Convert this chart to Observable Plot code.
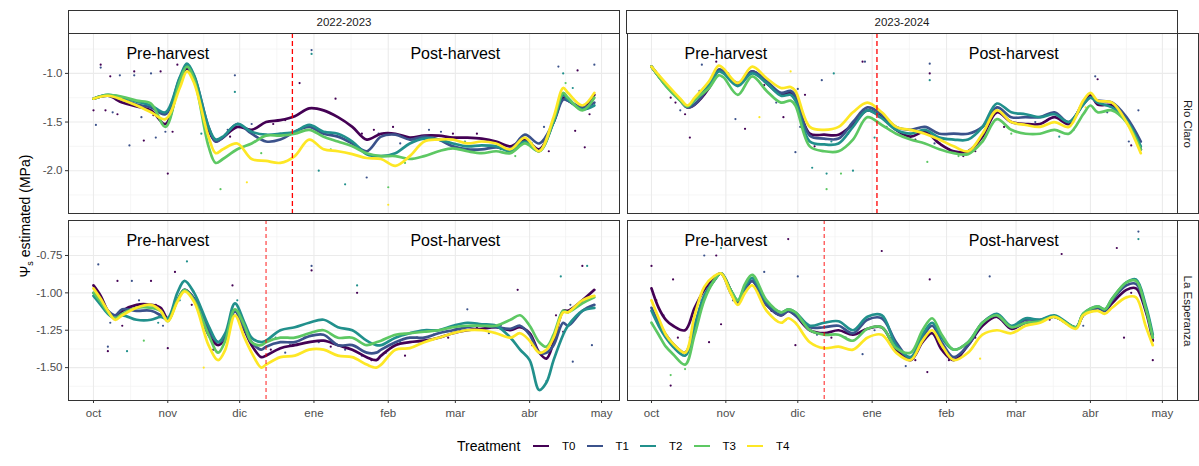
<!DOCTYPE html>
<html>
<head>
<meta charset="utf-8">
<script src="https://cdn.jsdelivr.net/npm/d3@7"></script>
<script src="https://cdn.jsdelivr.net/npm/@observablehq/plot@0.6"></script>
<style>
  body { margin: 0; background: #fff; font-family: "Liberation Sans", Arial, sans-serif; }
  #wrap { position: relative; width: 1199px; height: 466px; overflow: hidden; background: #fff; }
  .pane { position: absolute; }
  .strip { position: absolute; box-sizing: border-box; background: #fff; border: 1px solid #333;
           color: #1a1a1a; font-size: 11.5px; display: flex; align-items: center; justify-content: center; }
  .vtext { position: absolute; white-space: nowrap; text-align: center; }
  .leg { position: absolute; white-space: nowrap; }
</style>
</head>
<body>
<div id="wrap"></div>
<script>
// ---------------- data ----------------
const treatments = ["T0", "T1", "T2", "T3", "T4"];
const seasonLabels = ["2022-2023", "2023-2024"];
const siteLabels = ["Rio Claro", "La Esperanza"];
const monthLabels = ["oct", "nov", "dic", "ene", "feb", "mar", "abr", "may"];
const phaseLabels = ["Pre-harvest", "Post-harvest"];

// days counted from 1 October of the first season year
// Rio Claro 2022-2023
const days_rc_2223 = [0,6,12,18,24,30,36,39,42,48,51,54,60,66,72,78,84,90,96,102,108,114,120,126,132,138,144,150,156,162,168,174,180,186,192,196,198,204,209];
const rc_2223_T0 = [-1.26,-1.23,-1.30,-1.34,-1.38,-1.52,-1.08,-0.95,-1.05,-1.58,-1.70,-1.66,-1.55,-1.58,-1.50,-1.48,-1.44,-1.36,-1.38,-1.45,-1.55,-1.68,-1.62,-1.62,-1.66,-1.64,-1.64,-1.66,-1.66,-1.67,-1.70,-1.75,-1.68,-1.78,-1.50,-1.25,-1.28,-1.35,-1.22];
const rc_2223_T1 = [-1.26,-1.23,-1.27,-1.32,-1.35,-1.42,-1.05,-0.92,-1.03,-1.55,-1.70,-1.66,-1.52,-1.62,-1.70,-1.68,-1.60,-1.55,-1.62,-1.65,-1.72,-1.80,-1.65,-1.63,-1.68,-1.65,-1.68,-1.75,-1.78,-1.78,-1.76,-1.78,-1.63,-1.72,-1.50,-1.27,-1.28,-1.35,-1.30];
const rc_2223_T2 = [-1.26,-1.22,-1.25,-1.29,-1.33,-1.40,-1.04,-0.90,-1.02,-1.55,-1.68,-1.65,-1.52,-1.60,-1.63,-1.62,-1.60,-1.53,-1.60,-1.62,-1.70,-1.83,-1.85,-1.82,-1.72,-1.67,-1.68,-1.72,-1.75,-1.74,-1.75,-1.80,-1.70,-1.80,-1.50,-1.22,-1.27,-1.37,-1.33];
const rc_2223_T3 = [-1.26,-1.22,-1.24,-1.28,-1.31,-1.55,-1.08,-0.93,-1.06,-1.75,-1.92,-1.88,-1.78,-1.72,-1.64,-1.64,-1.62,-1.58,-1.65,-1.70,-1.75,-1.82,-1.85,-1.85,-1.88,-1.85,-1.80,-1.77,-1.80,-1.82,-1.80,-1.82,-1.72,-1.80,-1.48,-1.20,-1.25,-1.38,-1.25];
const rc_2223_T4 = [-1.26,-1.23,-1.27,-1.33,-1.40,-1.47,-1.15,-0.98,-1.10,-1.65,-1.82,-1.78,-1.72,-1.88,-1.90,-1.92,-1.85,-1.68,-1.78,-1.80,-1.83,-1.87,-1.88,-1.95,-1.85,-1.70,-1.68,-1.68,-1.72,-1.70,-1.72,-1.78,-1.66,-1.80,-1.45,-1.15,-1.20,-1.33,-1.20];
const pts_rc_2223 = [[3,-0.91,"T0"],[3,-0.94,"T1"],[7,-1.03,"T0"],[11,-1.02,"T1"],[17,-0.98,"T0"],[17,-1.02,"T1"],[24,-1.0,"T1"],[28,-0.98,"T0"],[35,-0.91,"T0"],[59,-1.02,"T1"],[59,-1.19,"T2"],[91,-0.76,"T1"],[91,-0.80,"T2"],[86,-1.10,"T0"],[101,-1.26,"T0"],[194,-0.93,"T1"],[196,-1.0,"T2"],[202,-0.97,"T0"],[209,-0.91,"T1"],[201,-1.59,"T0"],[205,-1.76,"T0"],[31,-2.03,"T0"],[15,-1.74,"T1"],[21,-1.69,"T0"],[26,-1.66,"T1"],[53,-2.19,"T3"],[64,-2.12,"T4"],[123,-2.17,"T3"],[123,-2.35,"T4"],[114,-2.07,"T1"],[105,-2.14,"T2"],[94,-2.0,"T2"],[1,-1.53,"T1"],[0,-1.38,"T0"],[45,-1.62,"T2"],[70,-1.82,"T3"],[140,-1.58,"T1"],[160,-1.62,"T0"],[188,-1.55,"T1"],[130,-1.92,"T3"],
  [5,-1.38,"T0"],[8,-1.40,"T1"],[10,-1.42,"T0"],[20,-1.45,"T1"],[25,-1.43,"T0"],[30,-1.60,"T1"],[33,-1.60,"T0"],[56,-1.58,"T1"],[57,-1.65,"T0"],[62,-1.55,"T0"],[66,-1.52,"T1"],[75,-1.52,"T0"],[80,-1.48,"T0"],[97,-1.60,"T2"],[99,-1.78,"T3"],[112,-1.62,"T0"],[117,-1.58,"T0"],[119,-1.62,"T1"],[125,-1.55,"T0"],[128,-1.72,"T1"],[145,-1.60,"T1"],[150,-1.62,"T0"],[155,-1.70,"T2"],[170,-1.78,"T2"],[176,-1.85,"T3"],[183,-1.72,"T2"],[190,-1.80,"T0"],[197,-1.10,"T3"],[200,-1.15,"T2"],[207,-1.42,"T0"]];

// Rio Claro 2023-2024
const days_rc_2324 = [0,6,12,15,18,24,28,30,36,42,48,54,58,60,66,72,78,84,90,96,102,108,114,120,126,132,138,144,150,156,162,168,174,180,183,186,192,198,204];
const rc_2324_T0 = [-0.93,-1.12,-1.28,-1.35,-1.32,-1.15,-0.97,-0.98,-1.12,-0.98,-1.10,-1.22,-1.20,-1.25,-1.62,-1.63,-1.63,-1.52,-1.38,-1.45,-1.58,-1.65,-1.60,-1.72,-1.80,-1.80,-1.65,-1.40,-1.50,-1.52,-1.52,-1.45,-1.52,-1.30,-1.22,-1.32,-1.33,-1.48,-1.78];
const rc_2324_T1 = [-0.93,-1.12,-1.28,-1.35,-1.32,-1.13,-0.96,-0.98,-1.10,-0.98,-1.08,-1.20,-1.18,-1.23,-1.64,-1.67,-1.67,-1.50,-1.35,-1.42,-1.55,-1.58,-1.55,-1.62,-1.62,-1.62,-1.55,-1.35,-1.45,-1.45,-1.45,-1.40,-1.50,-1.32,-1.25,-1.28,-1.30,-1.45,-1.70];
const rc_2324_T2 = [-0.93,-1.12,-1.27,-1.34,-1.28,-1.12,-0.98,-1.00,-1.13,-1.00,-1.10,-1.23,-1.22,-1.28,-1.70,-1.73,-1.72,-1.55,-1.38,-1.46,-1.58,-1.62,-1.58,-1.66,-1.68,-1.68,-1.55,-1.31,-1.40,-1.42,-1.45,-1.42,-1.50,-1.32,-1.25,-1.30,-1.35,-1.48,-1.75];
const rc_2324_T3 = [-0.93,-1.13,-1.28,-1.34,-1.27,-1.15,-1.02,-1.04,-1.22,-1.03,-1.18,-1.30,-1.28,-1.33,-1.75,-1.80,-1.80,-1.68,-1.45,-1.53,-1.62,-1.68,-1.72,-1.78,-1.82,-1.83,-1.70,-1.47,-1.58,-1.62,-1.62,-1.58,-1.62,-1.42,-1.33,-1.40,-1.38,-1.50,-1.78];
const rc_2324_T4 = [-0.93,-1.10,-1.26,-1.33,-1.25,-1.08,-0.92,-0.95,-1.10,-0.93,-1.05,-1.15,-1.14,-1.18,-1.55,-1.58,-1.55,-1.40,-1.30,-1.40,-1.55,-1.58,-1.62,-1.68,-1.75,-1.80,-1.62,-1.38,-1.50,-1.53,-1.55,-1.50,-1.55,-1.28,-1.20,-1.28,-1.30,-1.50,-1.82];
const pts_rc_2324 = [[27,-0.88,"T0"],[21,-0.91,"T1"],[61,-1.16,"T1"],[64,-1.22,"T0"],[58,-0.98,"T4"],[76,-1.0,"T2"],[71,-1.07,"T1"],[88,-0.88,"T0"],[89,-0.88,"T1"],[116,-0.90,"T1"],[116,-1.0,"T0"],[116,-1.07,"T2"],[185,-1.03,"T1"],[186,-1.06,"T0"],[203,-1.38,"T1"],[16,-1.66,"T0"],[35,-1.47,"T1"],[39,-1.57,"T0"],[67,-1.97,"T2"],[73,-2.03,"T2"],[73,-2.19,"T3"],[79,-2.03,"T3"],[84,-2.0,"T2"],[60,-1.81,"T1"],[115,-1.91,"T3"],[200,-1.74,"T0"],[199,-1.70,"T1"],[93,-1.66,"T2"],[8,-1.25,"T0"],[45,-1.45,"T4"],[130,-1.85,"T0"],[150,-1.62,"T3"],[170,-1.65,"T2"],
  [3,-1.02,"T1"],[5,-1.10,"T0"],[10,-1.30,"T0"],[12,-1.38,"T1"],[14,-1.42,"T0"],[20,-1.18,"T1"],[25,-1.05,"T4"],[32,-1.00,"T1"],[47,-1.12,"T0"],[52,-1.30,"T1"],[55,-1.45,"T0"],[62,-1.55,"T1"],[68,-1.75,"T0"],[75,-1.70,"T2"],[82,-1.62,"T1"],[95,-1.45,"T0"],[98,-1.55,"T1"],[104,-1.62,"T2"],[110,-1.68,"T0"],[118,-1.72,"T1"],[124,-1.78,"T0"],[128,-1.85,"T3"],[135,-1.80,"T0"],[141,-1.45,"T1"],[147,-1.55,"T0"],[160,-1.50,"T1"],[165,-1.48,"T0"],[176,-1.58,"T2"],[181,-1.35,"T4"],[190,-1.40,"T1"],[196,-1.42,"T0"],[201,-1.62,"T0"]];

// La Esperanza 2022-2023
const days_le_2223 = [0,3,6,9,12,18,24,28,31,35,38,42,48,52,55,59,63,66,70,72,78,84,90,96,102,108,114,118,120,126,132,138,144,150,156,162,168,174,178,182,186,189,192,196,198,204,209];
const le_2223_T0 = [-0.95,-1.02,-1.12,-1.17,-1.12,-1.08,-1.08,-1.10,-1.17,-1.05,-0.98,-1.04,-1.28,-1.35,-1.30,-1.12,-1.25,-1.35,-1.43,-1.42,-1.37,-1.35,-1.33,-1.32,-1.35,-1.38,-1.43,-1.45,-1.42,-1.35,-1.33,-1.32,-1.30,-1.27,-1.25,-1.24,-1.23,-1.25,-1.23,-1.27,-1.40,-1.44,-1.33,-1.12,-1.12,-1.05,-0.98];
const le_2223_T1 = [-1.00,-1.05,-1.12,-1.15,-1.11,-1.12,-1.12,-1.15,-1.18,-1.05,-0.98,-1.04,-1.25,-1.33,-1.30,-1.12,-1.24,-1.33,-1.38,-1.36,-1.33,-1.33,-1.29,-1.28,-1.35,-1.35,-1.40,-1.40,-1.38,-1.33,-1.30,-1.30,-1.27,-1.25,-1.23,-1.22,-1.23,-1.24,-1.22,-1.28,-1.40,-1.40,-1.35,-1.20,-1.22,-1.12,-1.08];
const le_2223_T2 = [-1.02,-1.08,-1.14,-1.17,-1.15,-1.18,-1.18,-1.16,-1.17,-1.00,-0.92,-1.00,-1.22,-1.33,-1.27,-1.07,-1.20,-1.30,-1.33,-1.32,-1.25,-1.23,-1.20,-1.18,-1.23,-1.25,-1.32,-1.35,-1.35,-1.30,-1.27,-1.25,-1.25,-1.22,-1.20,-1.21,-1.22,-1.30,-1.38,-1.45,-1.65,-1.60,-1.45,-1.28,-1.22,-1.12,-1.10];
const le_2223_T3 = [-1.00,-1.06,-1.13,-1.17,-1.14,-1.10,-1.10,-1.12,-1.19,-1.05,-0.98,-1.05,-1.28,-1.40,-1.32,-1.11,-1.22,-1.33,-1.35,-1.33,-1.30,-1.30,-1.27,-1.25,-1.30,-1.30,-1.35,-1.33,-1.32,-1.28,-1.27,-1.26,-1.25,-1.23,-1.22,-1.22,-1.22,-1.18,-1.15,-1.22,-1.33,-1.36,-1.28,-1.12,-1.13,-1.07,-1.03];
const le_2223_T4 = [-0.97,-1.04,-1.12,-1.18,-1.15,-1.10,-1.08,-1.12,-1.19,-1.06,-0.99,-1.06,-1.35,-1.45,-1.38,-1.15,-1.30,-1.40,-1.50,-1.48,-1.43,-1.42,-1.38,-1.38,-1.42,-1.43,-1.48,-1.50,-1.48,-1.38,-1.37,-1.33,-1.30,-1.27,-1.25,-1.25,-1.27,-1.30,-1.27,-1.32,-1.40,-1.38,-1.30,-1.13,-1.13,-1.05,-1.02];
const pts_le_2223 = [[2,-0.81,"T1"],[10,-0.92,"T0"],[16,-0.92,"T1"],[24,-0.92,"T0"],[6,-1.39,"T0"],[6,-1.36,"T1"],[14,-1.39,"T2"],[21,-1.32,"T3"],[31,-1.37,"T0"],[34,-0.86,"T0"],[39,-0.79,"T2"],[58,-0.95,"T0"],[91,-0.82,"T1"],[91,-0.85,"T0"],[110,-0.95,"T2"],[110,-1.0,"T0"],[156,-1.11,"T1"],[177,-0.98,"T0"],[195,-0.89,"T2"],[204,-0.82,"T0"],[206,-0.82,"T2"],[200,-1.46,"T1"],[196,-1.26,"T0"],[208,-1.35,"T1"],[189,-1.59,"T2"],[46,-1.50,"T4"],[27,-1.20,"T2"],[80,-1.40,"T1"],[130,-1.42,"T0"],[165,-1.27,"T1"],
  [4,-1.10,"T0"],[7,-1.20,"T1"],[12,-1.22,"T0"],[19,-1.05,"T1"],[26,-1.08,"T0"],[29,-1.22,"T1"],[36,-1.05,"T2"],[41,-1.08,"T0"],[47,-1.30,"T1"],[50,-1.38,"T0"],[53,-1.32,"T1"],[60,-1.05,"T2"],[65,-1.30,"T0"],[74,-1.38,"T0"],[76,-1.30,"T2"],[82,-1.35,"T1"],[88,-1.30,"T0"],[94,-1.33,"T1"],[99,-1.36,"T0"],[105,-1.38,"T1"],[112,-1.42,"T1"],[116,-1.45,"T0"],[122,-1.40,"T1"],[128,-1.33,"T2"],[135,-1.30,"T0"],[142,-1.28,"T1"],[148,-1.30,"T0"],[153,-1.25,"T1"],[160,-1.23,"T0"],[170,-1.22,"T1"],[183,-1.35,"T0"],[193,-1.15,"T0"],[199,-1.08,"T1"]];

// La Esperanza 2023-2024
const days_le_2324 = [0,3,6,9,14,18,22,26,29,33,36,39,42,48,54,57,60,66,72,78,84,90,96,102,108,113,117,121,126,132,138,144,150,156,162,168,177,180,186,189,192,198,202,206,209];
const le_2324_T0 = [-0.97,-1.10,-1.18,-1.22,-1.25,-1.10,-0.98,-0.90,-0.87,-0.98,-1.07,-0.98,-0.92,-1.08,-1.15,-1.12,-1.15,-1.25,-1.27,-1.25,-1.28,-1.24,-1.23,-1.38,-1.45,-1.33,-1.27,-1.38,-1.45,-1.35,-1.22,-1.16,-1.24,-1.20,-1.19,-1.16,-1.23,-1.15,-1.10,-1.12,-1.07,-0.98,-0.97,-1.12,-1.32];
const le_2324_T1 = [-1.10,-1.20,-1.28,-1.34,-1.40,-1.22,-1.02,-0.92,-0.87,-1.00,-1.07,-0.98,-0.92,-1.08,-1.15,-1.12,-1.15,-1.23,-1.23,-1.22,-1.27,-1.18,-1.17,-1.33,-1.44,-1.30,-1.22,-1.33,-1.43,-1.35,-1.20,-1.15,-1.23,-1.18,-1.18,-1.16,-1.23,-1.15,-1.10,-1.12,-1.05,-0.95,-0.94,-1.10,-1.30];
const le_2324_T2 = [-1.12,-1.22,-1.30,-1.36,-1.42,-1.22,-1.02,-0.92,-0.87,-0.98,-1.05,-0.96,-0.90,-1.06,-1.13,-1.11,-1.13,-1.22,-1.20,-1.19,-1.25,-1.16,-1.15,-1.35,-1.43,-1.28,-1.20,-1.30,-1.38,-1.33,-1.20,-1.14,-1.22,-1.17,-1.18,-1.15,-1.23,-1.14,-1.09,-1.11,-1.04,-0.93,-0.91,-1.08,-1.28];
const le_2324_T3 = [-1.20,-1.28,-1.36,-1.41,-1.48,-1.28,-1.05,-0.92,-0.87,-0.98,-1.05,-0.94,-0.88,-1.05,-1.13,-1.11,-1.13,-1.25,-1.28,-1.28,-1.32,-1.24,-1.23,-1.37,-1.40,-1.25,-1.17,-1.28,-1.38,-1.33,-1.20,-1.15,-1.23,-1.20,-1.19,-1.16,-1.23,-1.14,-1.09,-1.11,-1.04,-0.93,-0.92,-1.10,-1.30];
const le_2324_T4 = [-1.05,-1.17,-1.28,-1.34,-1.40,-1.15,-0.96,-0.89,-0.87,-1.00,-1.08,-1.00,-0.95,-1.12,-1.20,-1.17,-1.20,-1.33,-1.37,-1.36,-1.38,-1.30,-1.28,-1.40,-1.45,-1.32,-1.25,-1.35,-1.45,-1.40,-1.28,-1.25,-1.27,-1.22,-1.20,-1.16,-1.24,-1.15,-1.12,-1.14,-1.10,-1.03,-1.03,-1.22,-1.35];
const pts_le_2324 = [[0,-0.82,"T0"],[9,-0.91,"T0"],[22,-0.75,"T1"],[27,-0.75,"T0"],[29,-0.70,"T2"],[57,-0.64,"T0"],[47,-0.86,"T1"],[61,-0.89,"T1"],[96,-0.72,"T0"],[116,-0.91,"T0"],[141,-0.89,"T1"],[171,-0.74,"T0"],[194,-0.70,"T0"],[203,-0.59,"T1"],[203,-0.64,"T2"],[8,-1.55,"T3"],[8,-1.62,"T0"],[14,-1.51,"T3"],[24,-1.33,"T0"],[29,-1.21,"T0"],[106,-1.49,"T1"],[115,-1.53,"T0"],[209,-1.45,"T0"],[137,-1.44,"T4"],[88,-1.41,"T1"],[100,-1.30,"T1"],[60,-1.35,"T0"],[180,-1.22,"T1"],[197,-1.30,"T0"],
  [2,-1.05,"T0"],[5,-1.15,"T1"],[11,-1.30,"T0"],[16,-1.30,"T1"],[20,-1.05,"T0"],[34,-1.05,"T1"],[38,-1.02,"T0"],[44,-0.98,"T1"],[50,-1.12,"T0"],[56,-1.18,"T1"],[63,-1.20,"T0"],[69,-1.28,"T1"],[75,-1.30,"T0"],[81,-1.30,"T1"],[87,-1.27,"T0"],[93,-1.25,"T1"],[99,-1.30,"T0"],[104,-1.42,"T1"],[110,-1.45,"T0"],[119,-1.30,"T1"],[124,-1.45,"T0"],[128,-1.42,"T1"],[135,-1.30,"T0"],[146,-1.18,"T1"],[153,-1.22,"T0"],[160,-1.20,"T1"],[166,-1.18,"T0"],[175,-1.22,"T1"],[184,-1.12,"T0"],[195,-1.02,"T1"],[200,-1.00,"T0"]];

// harvest day (days from 1 October) per panel
const harvest_rc_2223 = 83, harvest_rc_2324 = 94, harvest_le_2223 = 72, harvest_le_2324 = 72;
// annotation dates (days from 1 October): 1 Nov and 1 Mar
const phaseDays = [31, 151];

// ---------------- styling ----------------
const colors = ["#440154", "#3B528B", "#21908C", "#5DC863", "#FDE725"];
const FONT = "'Liberation Sans', Arial, sans-serif";
const DAY = 86400000;
const dt = (year, d) => new Date(Date.UTC(year, 9, 1) + d * DAY);

function rowsOf(year, days, series) {
  const rows = [];
  series.forEach((vals, i) => vals.forEach((v, j) => rows.push({date: dt(year, days[j]), v, trt: treatments[i]})));
  return rows;
}

const wrap = document.getElementById("wrap");

function panel({year, days, series, pts, cut, row, col}) {
  const left = col === 0, bottom = row === 1;
  const mL = left ? 68 : 1, mR = 1, mT = 1, mB = bottom ? 41 : 1;
  const width = left ? 620 : 552;
  const height = mT + 180 + mB;
  const xdom = left ? [dt(year, -10.43), dt(year, 219.5)] : [dt(year, -10.0), dt(year, 219.3)];
  const ydom = row === 0 ? [-2.44, -0.59] : [-1.72, -0.516];
  const yMajor = row === 0 ? [-2, -1.5, -1] : [-1.5, -1.25, -1, -0.75];
  const yMinor = row === 0 ? [-2.25, -1.75, -1.25, -0.75] : [-1.625, -1.375, -1.125, -0.875, -0.625];
  const mTicks = monthLabels.map((_, i) => new Date(Date.UTC(year, 9 + i, 1)));
  const mMinor = mTicks.slice(0, -1).map((t, i) => new Date((+t + +mTicks[i + 1]) / 2));
  const rows = rowsOf(year, days, series);
  const dots = pts.map(([d, v, t]) => ({date: dt(year, d), v, trt: t}));
  const notes = phaseDays.map((d, i) => ({date: dt(year, d), label: phaseLabels[i]}));

  const marks = [
    Plot.gridX(mMinor, {stroke: "#F2F2F2", strokeOpacity: 1, strokeWidth: 0.7}),
    Plot.gridY(yMinor, {stroke: "#F2F2F2", strokeOpacity: 1, strokeWidth: 0.7}),
    Plot.gridX(mTicks, {stroke: "#EBEBEB", strokeOpacity: 1, strokeWidth: 1.1}),
    Plot.gridY(yMajor, {stroke: "#EBEBEB", strokeOpacity: 1, strokeWidth: 1.1}),
    Plot.dot(dots, {x: "date", y: "v", fill: "trt", r: 1.1}),
    Plot.line(rows, {x: "date", y: "v", z: "trt", stroke: "trt", curve: "catmull-rom", strokeWidth: 2.7}),
    Plot.ruleX([dt(year, cut)], {stroke: "#ff0000", strokeWidth: row === 0 ? 1.3 : 0.9, strokeDasharray: row === 0 ? "5,3" : "4,3"}),
    Plot.text(notes, {x: "date", text: "label", frameAnchor: "top", dy: 20, lineAnchor: "middle", fontSize: 16, fill: "#000"}),
    Plot.frame({stroke: "#333", strokeWidth: 1})
  ];
  if (left) marks.push(Plot.axisY(yMajor, {label: null, tickSize: 3, tickPadding: 3, fontSize: 11.5, fill: "#4D4D4D", stroke: "#333",
    tickFormat: d => row === 0 ? d.toFixed(1) : d.toFixed(2)}));
  if (bottom) marks.push(Plot.axisX(mTicks, {label: null, tickSize: 3, tickPadding: 5, fontSize: 11.5, fill: "#4D4D4D", stroke: "#333",
    tickFormat: d => monthLabels[(d.getUTCMonth() + 3) % 12]}));

  const svg = Plot.plot({
    width, height, marginLeft: mL, marginRight: mR, marginTop: mT, marginBottom: mB,
    x: {type: "utc", domain: xdom, axis: bottom ? undefined : null},
    y: {domain: ydom, axis: left ? undefined : null},
    color: {domain: treatments, range: colors},
    style: {background: "transparent", fontFamily: FONT, overflow: "visible"},
    marks
  });
  svg.classList.add("pane");
  svg.style.left = (left ? 0 : 626) + "px";
  svg.style.top = (row === 0 ? 32 : 219) + "px";
  wrap.appendChild(svg);
}

panel({year: 2022, days: days_rc_2223, series: [rc_2223_T0, rc_2223_T1, rc_2223_T2, rc_2223_T3, rc_2223_T4], pts: pts_rc_2223, cut: harvest_rc_2223, row: 0, col: 0});
panel({year: 2023, days: days_rc_2324, series: [rc_2324_T0, rc_2324_T1, rc_2324_T2, rc_2324_T3, rc_2324_T4], pts: pts_rc_2324, cut: harvest_rc_2324, row: 0, col: 1});
panel({year: 2022, days: days_le_2223, series: [le_2223_T0, le_2223_T1, le_2223_T2, le_2223_T3, le_2223_T4], pts: pts_le_2223, cut: harvest_le_2223, row: 1, col: 0});
panel({year: 2023, days: days_le_2324, series: [le_2324_T0, le_2324_T1, le_2324_T2, le_2324_T3, le_2324_T4], pts: pts_le_2324, cut: harvest_le_2324, row: 1, col: 1});

// strips
function addDiv(cls, css, html) {
  const d = document.createElement("div");
  d.className = cls;
  Object.assign(d.style, css);
  d.innerHTML = html;
  wrap.appendChild(d);
  return d;
}
addDiv("strip", {left: "68px", top: "10px", width: "552px", height: "24px"}, seasonLabels[0]);
addDiv("strip", {left: "626px", top: "10px", width: "552px", height: "24px"}, seasonLabels[1]);
[[33, 181], [220, 181]].forEach(([top, h], i) => {
  const s = addDiv("strip", {left: "1177px", top: top + "px", width: "22px", height: h + "px"}, "");
  const t = document.createElement("div");
  t.textContent = siteLabels[i];
  Object.assign(t.style, {transform: "rotate(90deg)", whiteSpace: "nowrap"});
  s.appendChild(t);
});

// y-axis title
addDiv("vtext", {left: "-125px", top: "206px", width: "300px", height: "20px", lineHeight: "20px", fontSize: "14px",
  color: "#000", transform: "rotate(-90deg)"}, "Ψ<sub style='font-size:9px;vertical-align:-3px'>s</sub> estimated (MPa)");

// legend
addDiv("leg", {left: "457px", top: "437px", fontSize: "14px", color: "#000", lineHeight: "18px"}, "Treatment");
treatments.forEach((t, i) => {
  const x = 533 + i * 53.5;
  addDiv("leg", {left: x + "px", top: "445px", width: "16px", height: "2px", background: colors[i]}, "");
  addDiv("leg", {left: (x + 29) + "px", top: "438px", fontSize: "11.5px", color: "#000", lineHeight: "16px"}, t);
});
</script>
</body>
</html>
